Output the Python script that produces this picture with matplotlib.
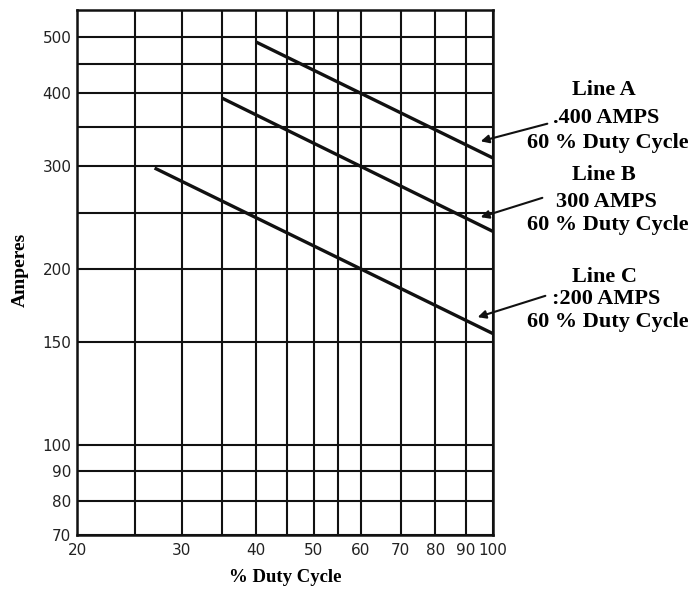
import matplotlib
matplotlib.use("Agg")
import matplotlib.pyplot as plt
from matplotlib.ticker import FixedLocator, NullLocator

# Data (log-log straight lines)
line_a_x = [40, 100]
line_a_y = [490, 310]
line_b_x = [35, 100]
line_b_y = [393, 232]
line_c_x = [27, 100]
line_c_y = [298, 155]

x_grid = [20, 25, 30, 35, 40, 45, 50, 55, 60, 70, 80, 90, 100]
x_ticklabels = [20, 30, 40, 50, 60, 70, 80, 90, 100]
y_grid = [70, 80, 90, 100, 150, 200, 250, 300, 350, 400, 450, 500]
y_ticklabels = [70, 80, 90, 100, 150, 200, 300, 400, 500]

labels = [("Line A", ".400 AMPS", "60 % Duty Cycle"),
          ("Line B", "300 AMPS", "60 % Duty Cycle"),
          ("Line C", ":200 AMPS", "60 % Duty Cycle")]

fig = plt.figure(figsize=(6.97, 5.90), dpi=100)
ax = fig.add_axes([0.1105, 0.0932, 0.5968, 0.8898])
ax.set_xscale("log")
ax.set_yscale("log")
ax.set_xlim(20, 100)
ax.set_ylim(70, 556)

for xv in x_grid:
    ax.axvline(xv, color="#111111", lw=1.5, zorder=1)
for yv in y_grid:
    ax.axhline(yv, color="#111111", lw=1.5, zorder=1)

for xs, ys in [(line_a_x, line_a_y), (line_b_x, line_b_y), (line_c_x, line_c_y)]:
    ax.plot(xs, ys, color="#111111", lw=2.4, solid_capstyle="butt", zorder=3)

ax.xaxis.set_major_locator(FixedLocator(x_ticklabels))
ax.yaxis.set_major_locator(FixedLocator(y_ticklabels))
ax.xaxis.set_minor_locator(NullLocator())
ax.yaxis.set_minor_locator(NullLocator())
ax.set_xticklabels([str(v) for v in x_ticklabels])
ax.set_yticklabels([str(v) for v in y_ticklabels])
ax.tick_params(axis="both", length=0, labelsize=11, colors="#222222")
ax.tick_params(axis="x", pad=6)
ax.tick_params(axis="y", pad=4)
for lab in ax.get_xticklabels() + ax.get_yticklabels():
    lab.set_family("DejaVu Sans")

for sp in ax.spines.values():
    sp.set_linewidth(1.8)
    sp.set_color("#111111")

serif = "Liberation Serif"
fig.text(285 / 697, 1 - 578 / 590, "% Duty Cycle", ha="center", va="center",
         family=serif, weight="bold", fontsize=13.5)
fig.text(20 / 697, 1 - 270 / 590, "Amperes", ha="center", va="center",
         rotation=90, family=serif, weight="bold", fontsize=14)

# Annotation text blocks (pixel positions)
rows = [(90, 118, 143), (175, 202, 225), (277, 299, 322)]
for (t1, t2, t3), (y1, y2, y3) in zip(labels, rows):
    fig.text(604 / 697, 1 - y1 / 590, t1, ha="center", va="center",
             family=serif, weight="bold", fontsize=16)
    fig.text(606 / 697, 1 - y2 / 590, t2, ha="center", va="center",
             family=serif, weight="bold", fontsize=16)
    fig.text(608 / 697, 1 - y3 / 590, t3, ha="center", va="center",
             family=serif, weight="bold", fontsize=16)

arrows = [((550, 123), (478, 142)), ((545, 197), (478, 218)), ((548, 295), (475, 318))]
for (sx, sy), (ex, ey) in arrows:
    fig.add_artist(matplotlib.patches.FancyArrowPatch(
        (sx / 697, 1 - sy / 590), (ex / 697, 1 - ey / 590),
        transform=fig.transFigure, arrowstyle="-|>", mutation_scale=12,
        color="#111111", lw=1.5))

fig.savefig("out.png", dpi=100, facecolor="white")
